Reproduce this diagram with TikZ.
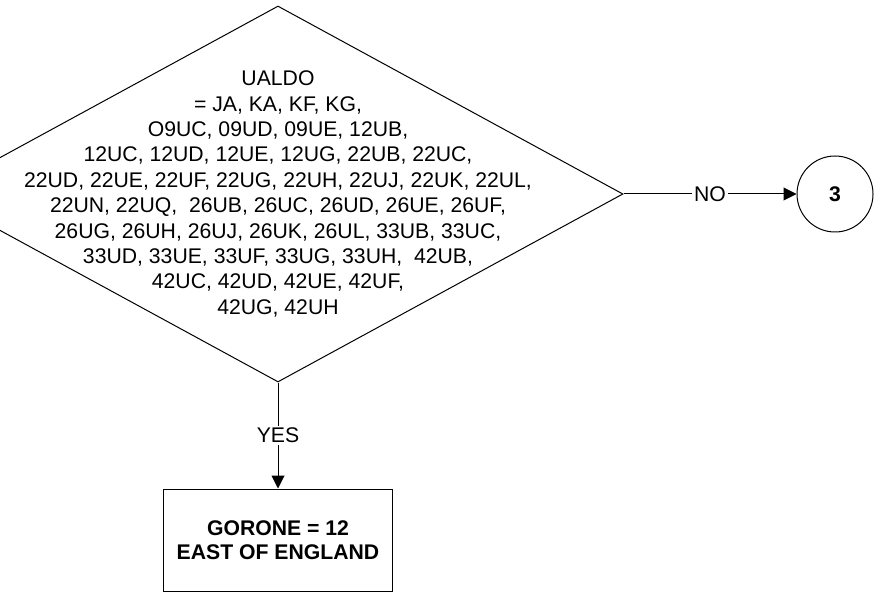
\documentclass[tikz,border=0pt]{standalone}
\usepackage{fontspec}
\setmainfont{Liberation Sans}
\usetikzlibrary{shapes, arrows.meta, positioning, shapes.geometric}

\begin{document}
\begin{tikzpicture}[
    node distance=53pt,
    decision/.style={diamond, draw, line width=0.5pt, minimum width=345pt, minimum height=188pt, inner sep=0pt},
    box/.style={rectangle, draw, line width=0.5pt, minimum width=114.5pt, minimum height=51pt, align=center, font=\fontsize{10.6}{12.2}\selectfont\bfseries},
    connector/.style={circle, draw, line width=0.5pt, minimum size=38pt, inner sep=0pt, font=\fontsize{10.6}{12.7}\selectfont\bfseries},
    arrow/.style={-{Triangle[length=6.5pt, width=6.5pt]}, line width=0.5pt},
    branch/.style={fill=white, inner sep=1pt, font=\fontsize{10.6}{12.7}\selectfont}
]

\useasboundingbox (0,0) rectangle (438.5pt,-299pt);

\node[decision] (ualdo) at (139pt,-97pt) {};
\node[align=center, font=\fontsize{10.6}{12.7}\selectfont] (ualdotext) at (ualdo.center) {UALDO\\ = JA, KA, KF, KG,\\ O9UC, 09UD, 09UE, 12UB,\\ 12UC, 12UD, 12UE, 12UG, 22UB, 22UC,\\ 22UD, 22UE, 22UF, 22UG, 22UH, 22UJ, 22UK, 22UL,\\ 22UN, 22UQ,~ 26UB, 26UC, 26UD, 26UE, 26UF,\\ 26UG, 26UH, 26UJ, 26UK, 26UL, 33UB, 33UC,\\ 33UD, 33UE, 33UF, 33UG, 33UH,~ 42UB,\\ 42UC, 42UD, 42UE, 42UF,\\ 42UG, 42UH};
\node[connector, right=86.5pt of ualdo] (three) {3};
\node[box, below=of ualdo] (gorone) {GORONE = 12\\ EAST OF ENGLAND};

\draw[arrow] (ualdo.east) -- node[branch] {NO} (three);
\draw[arrow] (ualdo.south) -- node[branch] {YES} (gorone);

\end{tikzpicture}
\end{document}
